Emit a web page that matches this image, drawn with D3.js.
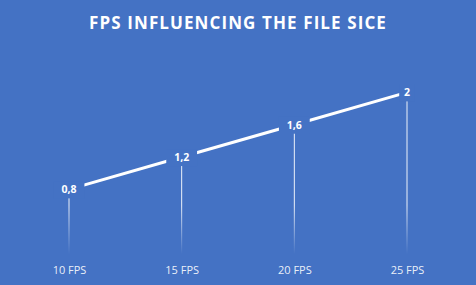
<!DOCTYPE html>
<html>
<head>
<meta charset="utf-8">
<script src="https://cdn.jsdelivr.net/npm/d3@7"></script>
<style>
  body { margin: 0; background: #4472C4; }
  svg { display: block; }
</style>
</head>
<body>
<svg id="chart"></svg>
<script>
const categories = ["10 FPS", "15 FPS", "20 FPS", "25 FPS"];
const values = [0.8, 1.2, 1.6, 2];
const labels = ["0,8", "1,2", "1,6", "2"];

const width = 476;
const height = 285;
const margin = { top: 52, right: 13, bottom: 31, left: 13 };

const svg = d3.select("#chart")
  .attr("width", width)
  .attr("height", height);

svg.append("rect")
  .attr("width", width)
  .attr("height", height)
  .attr("fill", "#4472C4");

const defs = svg.append("defs");
const grad = defs.append("linearGradient")
  .attr("id", "fade")
  .attr("gradientUnits", "userSpaceOnUse")
  .attr("x1", 0).attr("x2", 0)
  .attr("y1", 205).attr("y2", height - margin.bottom);
grad.append("stop").attr("offset", "0%").attr("stop-color", "#fff").attr("stop-opacity", 0.9);
grad.append("stop").attr("offset", "100%").attr("stop-color", "#fff").attr("stop-opacity", 0);

const xScale = d3.scalePoint()
  .domain(categories)
  .range([69, 407]);

const yScale = d3.scaleLinear()
  .domain([0, 2.5])
  .range([height - margin.bottom, margin.top]);

// title
svg.append("text")
  .attr("x", width / 2)
  .attr("y", 29)
  .attr("text-anchor", "middle")
  .attr("fill", "#fff")
  .style("font-family", "'Open Sans', sans-serif")
  .style("font-weight", "bold")
  .style("font-size", "17px")
  .style("letter-spacing", "1.1px")
  .text("FPS INFLUENCING THE FILE SICE");

// drop lines
svg.selectAll(".drop")
  .data(values)
  .enter()
  .append("line")
  .attr("class", "drop")
  .attr("x1", (d, i) => xScale(categories[i]))
  .attr("x2", (d, i) => xScale(categories[i]))
  .attr("y1", d => yScale(d))
  .attr("y2", yScale(0))
  .attr("stroke", "url(#fade)")
  .attr("stroke-width", 1);

// line
const line = d3.line()
  .x((d, i) => xScale(categories[i]))
  .y(d => yScale(d));

svg.append("path")
  .datum(values)
  .attr("d", line)
  .attr("fill", "none")
  .attr("stroke", "#fff")
  .attr("stroke-width", 3);

// data labels with background
const lbl = svg.selectAll(".lbl")
  .data(values)
  .enter()
  .append("g")
  .attr("class", "lbl")
  .attr("transform", (d, i) => `translate(${xScale(categories[i])}, ${yScale(d)})`);

lbl.append("rect")
  .attr("x", (d, i) => -(labels[i].length * 3.8 + 4))
  .attr("y", -8)
  .attr("width", (d, i) => labels[i].length * 7.6 + 8)
  .attr("height", 17)
  .attr("fill", "#4472C4");

lbl.append("text")
  .attr("text-anchor", "middle")
  .attr("dy", "0.36em")
  .attr("fill", "#fff")
  .style("font-family", "'Open Sans', sans-serif")
  .style("font-weight", "bold")
  .style("font-size", "10.5px")
  .text((d, i) => labels[i]);

// x axis labels
const xAxis = d3.axisBottom(xScale).tickSize(0).tickPadding(0);
const gx = svg.append("g")
  .attr("transform", `translate(0, 266)`)
  .call(xAxis);
gx.select(".domain").remove();
gx.selectAll("text")
  .attr("fill", "#fff")
  .attr("fill-opacity", 0.9)
  .style("font-family", "'Open Sans', sans-serif")
  .style("font-size", "11px");
</script>
</body>
</html>
